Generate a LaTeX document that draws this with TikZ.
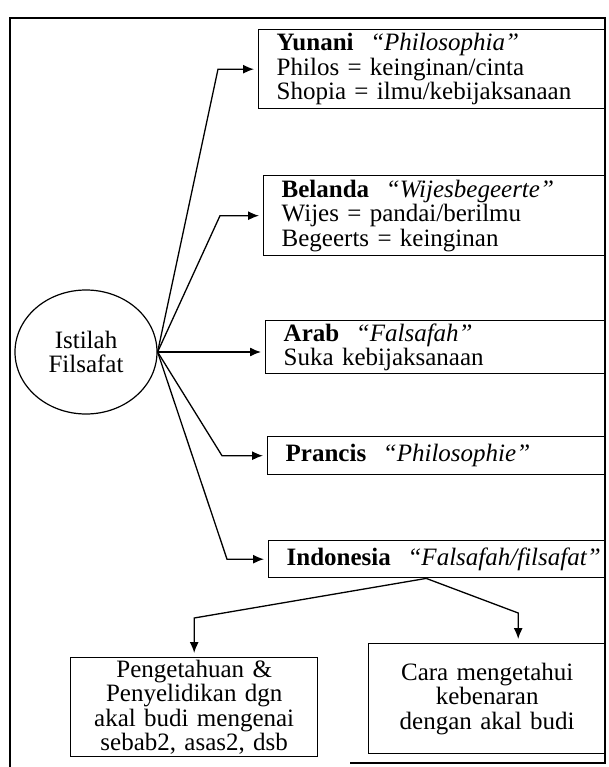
\documentclass[tikz,border=0pt]{standalone}
\usepackage{fontspec}
\setmainfont{Liberation Serif}
\usetikzlibrary{arrows.meta, positioning, shapes.geometric}

\begin{document}
\begin{tikzpicture}[x=1pt, y=-1pt,
    every node/.style={font=\fontsize{25}{24.5}\selectfont},
    langbox/.style={draw, line width=1.4pt, anchor=north west, align=left, inner xsep=18pt, inner ysep=2pt},
    subbox/.style={draw, line width=1.4pt, anchor=north west, align=center, inner sep=2pt},
    arr/.style={-{Latex[length=11pt, width=9pt]}, line width=1.3pt, shorten >=4pt}]
    \useasboundingbox (0,0) rectangle (609,767);

    % Frame
    \draw[line width=1.4pt] (10,767) -- (10,18) -- (605,18) -- (605,763) -- (350,763);

    % Centre
    \node (istilah) [draw, ellipse, line width=1.2pt, minimum width=142pt, minimum height=124pt, align=center, inner sep=0pt] at (86,352) {Istilah\\Filsafat};

    % Languages
    \node (yunani) [langbox, text width=311pt, minimum height=79pt] at (258,29)
        {\textbf{Yunani}\ \ \textit{``Philosophia''}\\Philos = keinginan/cinta\\Shopia = ilmu/kebijaksanaan};
    \node (belanda) [langbox, text width=306pt, minimum height=80pt] at (263,175)
        {\textbf{Belanda}\ \ \textit{``Wijesbegeerte''}\\Wijes = pandai/berilmu\\Begeerts = keinginan};
    \node (arab) [langbox, text width=304pt, minimum height=53pt] at (265,320)
        {\textbf{Arab}\ \ \textit{``Falsafah''}\\Suka kebijaksanaan};
    \node (prancis) [langbox, text width=302pt, minimum height=38pt] at (267,436)
        {\textbf{Prancis}\ \ \textit{``Philosophie''}};
    \node (indonesia) [langbox, text width=301pt, minimum height=37pt] at (268,540)
        {\mbox{\textbf{Indonesia}\ \ \textit{``Falsafah/filsafat''}}};

    % Meanings
    \node (pengetahuan) [subbox, text width=243pt, minimum height=98pt] at (70,657)
        {Pengetahuan \&\\Penyelidikan dgn\\akal budi mengenai\\sebab2, asas2, dsb};
    \node (cara) [subbox, text width=233pt, minimum height=110pt] at (368,643)
        {Cara mengetahui\\kebenaran\\dengan akal budi};

    % Arrows
    \draw[arr] (istilah.east) -- ([xshift=-40pt]yunani.west) -- (yunani.west);
    \draw[arr] (istilah.east) -- ([xshift=-43pt]belanda.west) -- (belanda.west);
    \draw[arr] (istilah.east) -- (istilah.east -| arab.west);
    \draw[arr] (istilah.east) -- ([xshift=-45pt]prancis.west) -- (prancis.west);
    \draw[arr] (istilah.east) -- ([xshift=-41pt]indonesia.west) -- (indonesia.west);

    \coordinate (split) at ([xshift=-11pt]indonesia.south);
    \draw[arr] (split) -- ([yshift=39pt]pengetahuan.north) -- (pengetahuan.north);
    \draw[arr] (split) -- ([xshift=31pt, yshift=30pt]cara.north) -- ([xshift=31pt]cara.north);
\end{tikzpicture}
\end{document}
